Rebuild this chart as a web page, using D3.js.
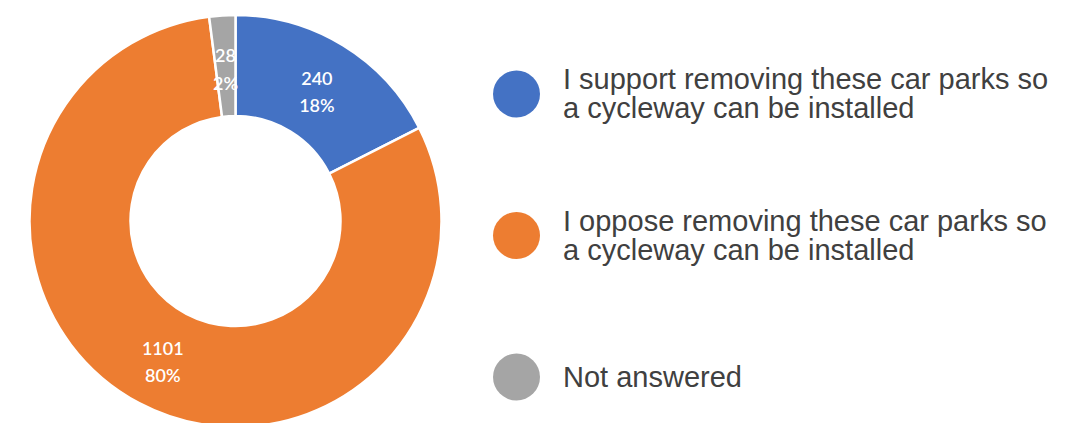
<!DOCTYPE html>
<html>
<head>
<meta charset="utf-8">
<script src="https://cdn.jsdelivr.net/npm/d3@7"></script>
<style>
  html, body { margin: 0; padding: 0; background: #fff; }
  svg { display: block; }
</style>
</head>
<body>
<svg id="chart" width="1068" height="423"></svg>
<script>
const categories = [
  ["I support removing these car parks so", "a cycleway can be installed"],
  ["I oppose removing these car parks so", "a cycleway can be installed"],
  ["Not answered"]
];
const values = [240, 1101, 28];
const percentLabels = ["18%", "80%", "2%"];
const colors = ["#4472C4", "#ED7D31", "#A5A5A5"];

const svg = d3.select("#chart");
const cx = 235.5, cy = 221, outerR = 206, innerR = 105;

const pie = d3.pie().sort(null).value(d => d)(values);
const arc = d3.arc().innerRadius(innerR).outerRadius(outerR);
const labelArc = d3.arc().innerRadius((innerR + outerR) / 2).outerRadius((innerR + outerR) / 2);

const g = svg.append("g").attr("transform", `translate(${cx},${cy})`);
g.selectAll("path.slice").data(pie).join("path")
  .attr("class", "slice")
  .attr("d", arc)
  .attr("fill", (d, i) => colors[i])
  .attr("stroke", "#fff")
  .attr("stroke-width", 2.5)
  .attr("stroke-linejoin", "round");

const lab = g.selectAll("g.lab").data(pie).join("g")
  .attr("class", "lab")
  .attr("transform", d => { const c = labelArc.centroid(d); return `translate(${c[0]},${c[1] + 3})`; });
lab.append("text")
  .attr("text-anchor", "middle")
  .attr("y", -6.5)
  .attr("font-family", "Lato, 'Open Sans', sans-serif")
  .attr("font-size", 18)
  .attr("font-weight", 600)
  .attr("fill", "#fff")
  .text(d => d.data);
lab.append("text")
  .attr("text-anchor", "middle")
  .attr("y", 21)
  .attr("font-family", "Lato, 'Open Sans', sans-serif")
  .attr("font-size", 18)
  .attr("font-weight", 600)
  .attr("fill", "#fff")
  .text((d, i) => percentLabels[i]);

// Legend
const legendY = d3.scalePoint().domain(d3.range(categories.length)).range([94, 377]);
const leg = svg.append("g");
const items = leg.selectAll("g.item").data(categories).join("g")
  .attr("class", "item")
  .attr("transform", (d, i) => `translate(0,${legendY(i)})`);
items.append("circle")
  .attr("cx", 516.5)
  .attr("cy", 0)
  .attr("r", 23.5)
  .attr("fill", (d, i) => colors[i]);
items.each(function(lines) {
  const t = d3.select(this).append("text")
    .attr("font-family", "'Liberation Sans', Arial, sans-serif")
    .attr("font-size", 29)
    .attr("fill", "#404040");
  const n = lines.length;
  lines.forEach((ln, k) => {
    t.append("tspan")
      .attr("x", 563)
      .attr("y", (k - (n - 1) / 2) * 29 + 9.5)
      .text(ln);
  });
});
</script>
</body>
</html>
